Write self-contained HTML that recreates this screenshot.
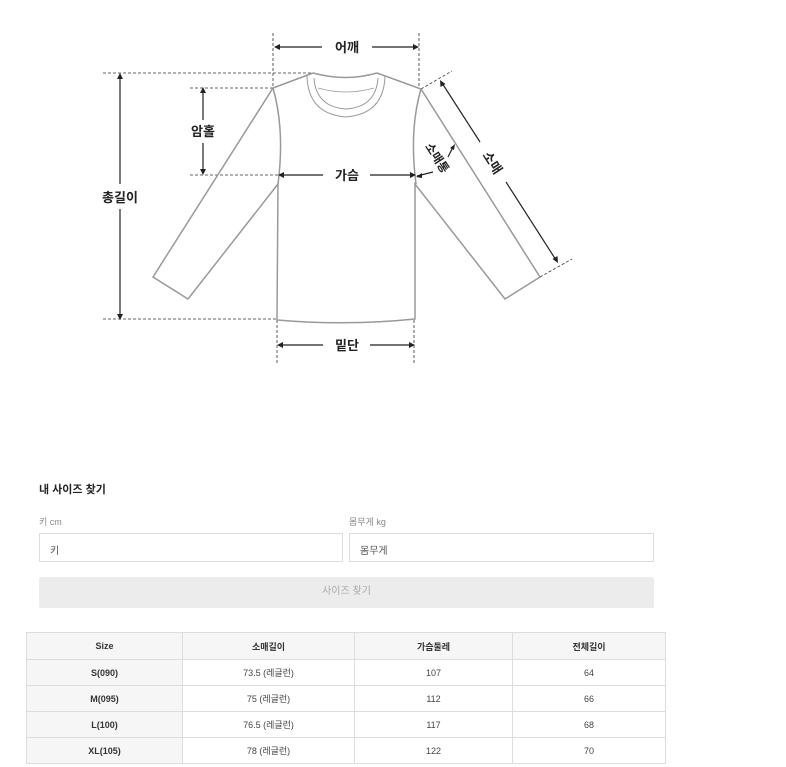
<!DOCTYPE html>
<html><head><meta charset="utf-8"><style>
body{margin:0;width:786px;height:767px;background:#fff;font-family:"Liberation Sans","Noto Sans CJK KR",sans-serif;position:relative;overflow:hidden}
.a{position:absolute}
.t{font-size:11px;color:#222;font-weight:bold}
.lb{font-size:9px;color:#888}
.in{border:1px solid #ddd;height:29px;box-sizing:border-box;font-size:10px;color:#555;padding:8px 10px}
table{border-collapse:collapse;position:absolute;left:26px;top:632px;width:640px;font-size:9px;color:#444;table-layout:fixed}
td{border:1px solid #ddd;height:25px;text-align:center;padding:0}
tr:first-child td{background:#f6f6f6;font-weight:bold;color:#333;height:26px}
td:first-child{background:#f6f6f6;font-weight:bold;color:#333}
</style></head><body>
<svg class="a" style="left:0;top:0" width="786" height="400" font-family="Liberation Sans,Noto Sans CJK KR,sans-serif">
<g stroke="#333" stroke-width="0.8" stroke-dasharray="3,2" fill="none">
<path d="M273,33V88M419,33V89M103,73H313M103,319H277M190,88H273M190,175H278M277,320V363M414,320V363M421,89L452,71M540,277L572,259"/>
</g>
<g stroke="#999" stroke-width="1.5" fill="none">
<path d="M313,73L273,88L153,277L188,299L278,184L277,320Q346,326 415,319L415,184L505,299L540,277L421,89L377,73"/>
<path d="M313,73Q346,82 377,73"/>
<path d="M273,88Q285,130 278,184M421,89Q409,130 416,184"/>
<path d="M307,76Q308,114 346,117Q384,114 385,76" stroke-width="1"/>
<path d="M314,78Q316,107 346,109Q376,107 378,78" stroke-width="1"/>
<path d="M318,88Q346,96 374,88" stroke-width="0.8"/>
</g>
<g stroke="#222" stroke-width="1.2" fill="none">
<path d="M276,47H322M372,47H417M120,76V184M120,209V317M203,90V120M203,143V172M281,175H323M370,175H413M280,345H323M370,345H412M442,83L480,142M506,182L556,260M433,172L417,176M448,157L453,147"/>
</g>
<g fill="#222">
<path d="M274,47l6,-3v6zM419,47l-6,-3v6zM120,73l-3,6h6zM120,320l-3,-6h6zM203,87l-3,6h6zM203,175l-3,-6h6zM278,175l6,-3v6zM416,175l-6,-3v6zM277,345l6,-3v6zM415,345l-6,-3v6zM440,80l0.5,7l5,-3zM558,263l-0.5,-7l-5,3zM416,177l6,-4l0,5zM455,144l-5,4l4,2z"/>
</g>
<g font-size="13" font-weight="bold" fill="#222" text-anchor="middle">
<text x="347" y="52">어깨</text>
<text x="203" y="136">암홀</text>
<text x="120" y="202">총길이</text>
<text x="347" y="180">가슴</text>
<text x="347" y="350">밑단</text>
<text transform="translate(492,163) rotate(57)" y="4">소매</text>
<text transform="translate(437,158) rotate(57)" y="4" font-size="12">소매통</text>
</g>
</svg>
<div class="a t" style="left:39px;top:481px">내 사이즈 찾기</div>
<div class="a lb" style="left:39px;top:515px">키 cm</div>
<div class="a lb" style="left:349px;top:515px">몸무게 kg</div>
<div class="a in" style="left:39px;top:533px;width:304px">키</div>
<div class="a in" style="left:349px;top:533px;width:305px">몸무게</div>
<div class="a" style="left:39px;top:577px;width:615px;height:31px;background:#ececec;border-radius:2px;font-size:10px;color:#aaa;text-align:center;line-height:29px">사이즈 찾기</div>
<table>
<tr><td style="width:155px">Size</td><td style="width:171px">소매길이</td><td style="width:157px">가슴둘레</td><td>전체길이</td></tr>
<tr><td>S(090)</td><td>73.5 (레글런)</td><td>107</td><td>64</td></tr>
<tr><td>M(095)</td><td>75 (레글런)</td><td>112</td><td>66</td></tr>
<tr><td>L(100)</td><td>76.5 (레글런)</td><td>117</td><td>68</td></tr>
<tr><td>XL(105)</td><td>78 (레글런)</td><td>122</td><td>70</td></tr>
</table>
</body></html>
